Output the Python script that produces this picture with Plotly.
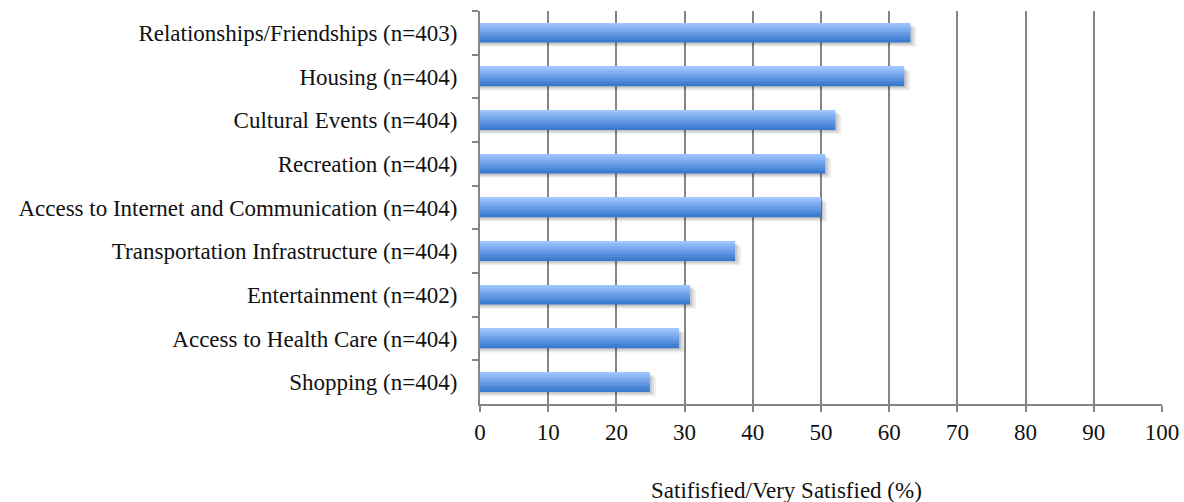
import plotly.graph_objects as go

categories = [
    "Relationships/Friendships (n=403)",
    "Housing (n=404)",
    "Cultural Events (n=404)",
    "Recreation (n=404)",
    "Access to Internet and Communication (n=404)",
    "Transportation Infrastructure (n=404)",
    "Entertainment (n=402)",
    "Access to Health Care (n=404)",
    "Shopping (n=404)",
]
values = [63.1, 62.2, 52.1, 50.6, 50.0, 37.4, 30.8, 29.2, 24.9]
x_ticks = list(range(0, 101, 10))
x_title = "Satifisfied/Very Satisfied (%)"

FONT = "Liberation Serif, Times New Roman, serif"
bar_w = 0.44
n_strips = 12
top_rgb = (160, 198, 255)
bot_rgb = (58, 122, 208)

fig = go.Figure()

# soft shadow layers
for k, (dx, dy, a) in enumerate([(0.9, 0.10, 0.06), (0.6, 0.07, 0.08), (0.3, 0.04, 0.10)]):
    fig.add_trace(go.Bar(
        y=categories, x=[v + dx for v in values], orientation="h",
        width=bar_w, offset=-bar_w / 2 + dy,
        marker=dict(color=f"rgba(0,0,0,{a})", line=dict(width=0)),
        hoverinfo="skip", showlegend=False,
    ))

# gradient strips
for i in range(n_strips):
    t = i / (n_strips - 1)
    c = tuple(int(round(top_rgb[j] + (bot_rgb[j] - top_rgb[j]) * t)) for j in range(3))
    sw = bar_w / n_strips
    fig.add_trace(go.Bar(
        y=categories, x=values, orientation="h",
        width=sw * 1.05, offset=-bar_w / 2 + i * sw,
        marker=dict(color=f"rgb{c}", line=dict(width=0)),
        showlegend=False,
    ))

fig.update_layout(
    width=1184, height=502,
    margin=dict(l=480, r=22, t=11, b=98, autoexpand=False),
    barmode="overlay",
    plot_bgcolor="white", paper_bgcolor="white",
    font=dict(family=FONT, size=23, color="#111111"),
    xaxis=dict(
        range=[0, 100], tickvals=x_ticks, ticktext=[str(v) for v in x_ticks],
        showgrid=True, gridcolor="#858585", gridwidth=2,
        showline=True, linecolor="#858585", linewidth=2,
        ticks="outside", ticklen=6, tickwidth=2, tickcolor="#858585",
        zeroline=False, automargin=False, ticklabelstandoff=0,
    ),
    yaxis=dict(
        autorange="reversed", showline=True, linecolor="#858585", linewidth=2,
        ticks="outside", ticklen=6, tickwidth=2, tickcolor="#858585",
        tickson="boundaries", showgrid=False, zeroline=False,
        automargin=False, ticklabelstandoff=16,
    ),
    annotations=[dict(
        text=x_title, xref="paper", yref="paper", x=0.45, y=-0.219,
        xanchor="center", yanchor="middle", showarrow=False,
        font=dict(family=FONT, size=23, color="#111111"),
    )],
)

fig.write_html("out.html")
